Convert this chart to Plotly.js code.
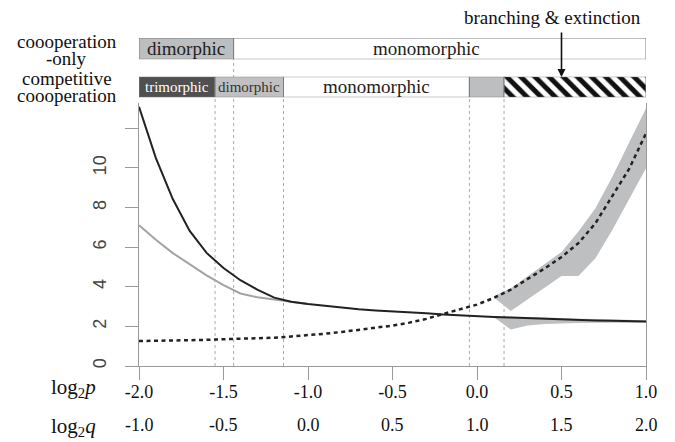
<!DOCTYPE html>
<html>
<head>
<meta charset="utf-8">
<script src="https://cdn.plot.ly/plotly-3.0.1.min.js"></script>
<style>html,body{margin:0;padding:0;background:#fff;}#chart{width:675px;height:442px;}</style>
</head>
<body>
<div id="chart"></div>
<script>
// ---- data ----
const pTicks = [-2.0, -1.5, -1.0, -0.5, 0.0, 0.5, 1.0];
const qTicks = [-1.0, -0.5, 0.0, 0.5, 1.0, 1.5, 2.0];

const log2p = [-2.0,-1.9,-1.8,-1.7,-1.6,-1.5,-1.4,-1.3,-1.2,-1.1,-1.0,-0.9,-0.8,-0.7,-0.6,-0.5,-0.4,-0.3,-0.2,-0.1,0.0,0.1,0.2,0.3,0.4,0.5,0.6,0.7,0.8,0.9,1.0];
const competitive = [13.09,10.50,8.43,6.82,5.71,4.95,4.33,3.86,3.45,3.24,3.13,3.03,2.95,2.86,2.80,2.76,2.71,2.66,2.60,2.55,2.51,2.48,2.45,2.42,2.38,2.33,2.31,2.30,2.28,2.27,2.25];
const dashedTrait = [1.26,1.27,1.28,1.30,1.32,1.35,1.37,1.40,1.43,1.49,1.55,1.63,1.72,1.82,1.94,2.04,2.19,2.38,2.63,2.85,3.10,3.44,3.86,4.40,4.92,5.50,6.20,7.20,8.55,9.95,11.75];

const log2pCoopOnly = [-2.0,-1.9,-1.8,-1.7,-1.6,-1.5,-1.4,-1.3,-1.2,-1.1,-1.0];
const coopOnly = [7.11,6.37,5.70,5.12,4.58,4.08,3.66,3.47,3.35,3.24,3.13];

const bandX = [0.1,0.2,0.3,0.4,0.5,0.6,0.7,0.8,0.9,1.0];
const upperBandTop = [3.52,3.92,4.53,5.16,5.76,6.79,7.95,9.54,11.26,13.01];
const upperBandBot = [3.46,2.78,3.37,3.96,4.55,4.55,5.43,6.86,8.43,9.98];
const lowerBandTop = [2.50,2.50,2.48,2.45,2.41,2.38,2.37,2.35,2.33,2.31];
const lowerBandBot = [2.46,1.84,2.05,2.12,2.16,2.17,2.18,2.19,2.19,2.18];

const coopOnlyPhaseStart = [-2.0, -1.44];
const coopOnlyPhaseEnd   = [-1.44, 1.0];
const coopOnlyPhaseLabel = ['dimorphic', 'monomorphic'];

const compPhaseStart = [-2.0, -1.55, -1.145, -0.045];
const compPhaseEnd   = [-1.55, -1.145, -0.045, 0.16];
const compPhaseLabel = ['trimorphic', 'dimorphic', 'monomorphic', ''];
const branchStart = [0.16];
const branchEnd = [1.0];

const branchingAt = 0.5;

// ---- styles ----
const SERIF = 'Liberation Serif, Times New Roman, serif';
const SANS = 'Liberation Sans, Arial, sans-serif';
const BANDGREY = '#bebfc1';
const AXISGREY = '#9a9a9a';

function poly(x, top, bot) {
  return {
    x: x.concat(x.slice().reverse()),
    y: top.concat(bot.slice().reverse())
  };
}
const ub = poly(bandX, upperBandTop, upperBandBot);
const lb = poly(bandX, lowerBandTop, lowerBandBot);

const traces = [
  {x: ub.x, y: ub.y, type: 'scatter', mode: 'lines', fill: 'toself', fillcolor: BANDGREY,
   line: {width: 0, color: BANDGREY}, hoverinfo: 'skip', showlegend: false},
  {x: lb.x, y: lb.y, type: 'scatter', mode: 'lines', fill: 'toself', fillcolor: BANDGREY,
   line: {width: 0, color: BANDGREY}, hoverinfo: 'skip', showlegend: false},
  {x: log2pCoopOnly, y: coopOnly, type: 'scatter', mode: 'lines',
   line: {color: '#a3a3a3', width: 2}, showlegend: false},
  {x: log2p, y: competitive, type: 'scatter', mode: 'lines',
   line: {color: '#222222', width: 2}, showlegend: false},
  {x: log2p, y: dashedTrait, type: 'scatter', mode: 'lines',
   line: {color: '#222222', width: 2.5, dash: '4px,3.5px'}, showlegend: false},
  // phase bars: competitive cooperation (lower)
  {type: 'bar', orientation: 'h', xaxis: 'x', yaxis: 'y2',
   base: compPhaseStart, x: compPhaseEnd.map((e, i) => e - compPhaseStart[i]),
   y: compPhaseStart.map(() => 0), width: 1,
   marker: {color: ['#505050', '#c0c0c2', '#ffffff', '#bdbec0'],
            line: {color: '#7a7a7a', width: 1}},
   hoverinfo: 'skip', showlegend: false},
  // hatched branching & extinction segment
  {type: 'bar', orientation: 'h', xaxis: 'x', yaxis: 'y2',
   base: branchStart, x: branchEnd.map((e, i) => e - branchStart[i]),
   y: [0], width: 1,
   marker: {color: '#111111', line: {color: '#7a7a7a', width: 1},
            pattern: {shape: '\\', fillmode: 'replace', fgcolor: '#111111', bgcolor: '#ffffff', size: 10, solidity: 0.5}},
   hoverinfo: 'skip', showlegend: false},
  // phase bars: cooperation-only (upper)
  {type: 'bar', orientation: 'h', xaxis: 'x', yaxis: 'y3',
   base: coopOnlyPhaseStart, x: coopOnlyPhaseEnd.map((e, i) => e - coopOnlyPhaseStart[i]),
   y: coopOnlyPhaseStart.map(() => 0), width: 1,
   marker: {color: ['#bdbec0', '#ffffff'], line: {color: '#7a7a7a', width: 1}},
   hoverinfo: 'skip', showlegend: false}
];

const T = 38, B = 76, H = 442 - T - B;
function py(pix) { return (442 - B - pix) / H; }   // pixel row -> paper y
const L = 139, R = 29, W = 675 - L - R;
function px(pix) { return (pix - L) / W; }         // pixel col -> paper x

const shapes = [];
const boundaries = [-1.55, -1.145, -0.045, 0.16];
boundaries.forEach(b => shapes.push({type: 'line', xref: 'x', yref: 'paper', x0: b, x1: b, y0: 0, y1: py(97),
  line: {color: '#aaaaaa', width: 1, dash: 'dot'}, layer: 'below'}));
shapes.push({type: 'line', xref: 'x', yref: 'paper', x0: coopOnlyPhaseEnd[0], x1: coopOnlyPhaseEnd[0], y0: 0, y1: py(59),
  line: {color: '#aaaaaa', width: 1, dash: 'dot'}, layer: 'below'});

const ann = [];
function txt(o) { return Object.assign({showarrow: false, xanchor: 'center', yanchor: 'middle'}, o); }
// left row labels
[['coooperation', 41], ['-only', 58], ['competitive', 78], ['coooperation', 95]].forEach(([t, y]) =>
  ann.push(txt({text: t, xref: 'paper', yref: 'paper', x: px(66.5), y: py(y),
            font: {family: SERIF, size: 19, color: '#111'}})));
// bar labels
ann.push(txt({text: coopOnlyPhaseLabel[0], xref: 'x', yref: 'y3', x: (coopOnlyPhaseStart[0] + coopOnlyPhaseEnd[0]) / 2, y: 0,
  font: {family: SERIF, size: 19, color: '#222'}}));
ann.push(txt({text: coopOnlyPhaseLabel[1], xref: 'x', yref: 'y3', x: -0.30, y: 0,
  font: {family: SERIF, size: 19, color: '#222'}}));
ann.push(txt({text: compPhaseLabel[0], xref: 'x', yref: 'y2', x: (compPhaseStart[0] + compPhaseEnd[0]) / 2, y: 0,
  font: {family: SERIF, size: 15, color: '#ffffff'}}));
ann.push(txt({text: compPhaseLabel[1], xref: 'x', yref: 'y2', x: (compPhaseStart[1] + compPhaseEnd[1]) / 2, y: 0,
  font: {family: SERIF, size: 15, color: '#333'}}));
ann.push(txt({text: compPhaseLabel[2], xref: 'x', yref: 'y2', x: (compPhaseStart[2] + compPhaseEnd[2]) / 2, y: 0,
  font: {family: SERIF, size: 19, color: '#222'}}));
// branching annotation
ann.push(txt({text: 'branching &amp; extinction', xref: 'paper', yref: 'paper', x: px(552), y: py(18),
  font: {family: SERIF, size: 19, color: '#111'}}));
ann.push({text: '', xref: 'x', yref: 'paper', x: branchingAt, y: py(77), ax: 0, ay: -46,
  showarrow: true, arrowhead: 2, arrowsize: 1, arrowwidth: 1.6, arrowcolor: '#111'});
// axis row labels
ann.push(txt({text: 'log<sub>2</sub><i>p</i>', xref: 'paper', yref: 'paper', x: px(73), y: py(388),
  font: {family: SERIF, size: 21, color: '#111'}}));
ann.push(txt({text: 'log<sub>2</sub><i>q</i>', xref: 'paper', yref: 'paper', x: px(73), y: py(427),
  font: {family: SERIF, size: 21, color: '#111'}}));
// q tick labels (second x scale)
qTicks.forEach((q, i) => ann.push(txt({text: q.toFixed(1), xref: 'x', yref: 'paper', x: pTicks[i], y: py(425),
  font: {family: SERIF, size: 18, color: '#111'}})));

const layout = {
  width: 675, height: 442,
  margin: {l: L, r: R, t: T, b: B, pad: 0},
  paper_bgcolor: '#ffffff', plot_bgcolor: '#ffffff',
  barmode: 'overlay',
  showlegend: false,
  xaxis: {range: [-2, 1], tickvals: pTicks, ticktext: pTicks.map(v => v.toFixed(1)),
          ticks: 'outside', ticklen: 13, tickcolor: AXISGREY, tickwidth: 1,
          showline: true, linecolor: AXISGREY, linewidth: 1, showgrid: false, zeroline: false,
          tickfont: {family: SERIF, size: 18, color: '#111'}, ticklabelstandoff: -4, anchor: 'y'},
  yaxis: {domain: [0, py(102.6)], range: [0, 13.3], tickvals: [0, 2, 4, 6, 8, 10, 12],
          ticktext: ['0', '2', '4', '6', '8', '10', ''], tickangle: -90,
          ticks: 'outside', ticklen: 13, tickcolor: AXISGREY, tickwidth: 1,
          showline: true, mirror: true, linecolor: AXISGREY, linewidth: 1, showgrid: false, zeroline: false,
          tickfont: {family: SANS, size: 18, color: '#444'}, ticklabelstandoff: 12},
  yaxis2: {domain: [py(97.3), py(76.7)], range: [-0.5, 0.5], visible: false, anchor: 'x', fixedrange: true},
  yaxis3: {domain: [py(59.3), 1], range: [-0.5, 0.5], visible: false, anchor: 'x', fixedrange: true},
  shapes: shapes,
  annotations: ann
};

Plotly.newPlot('chart', traces, layout, {displayModeBar: false, staticPlot: true});
</script>
</body>
</html>
